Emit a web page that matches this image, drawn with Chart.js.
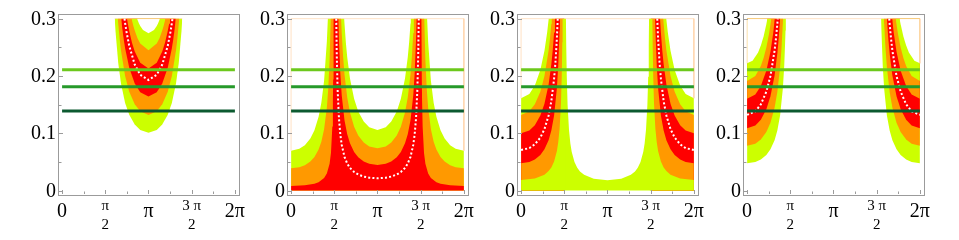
<!DOCTYPE html>
<html><head><meta charset="utf-8">
<script src="https://cdn.jsdelivr.net/npm/chart.js@4/dist/chart.umd.min.js"></script>
<style>
html,body{margin:0;padding:0;background:#fff;width:959px;height:240px;overflow:hidden;position:relative}
canvas{position:absolute;top:0}
</style></head><body>
<canvas id="c1" width="246" height="240" style="left:0px"></canvas>
<canvas id="c2" width="246" height="240" style="left:229px"></canvas>
<canvas id="c3" width="246" height="240" style="left:459px"></canvas>
<canvas id="c4" width="246" height="240" style="left:685px"></canvas>
<script>
// ---------- axes / ticks ----------
const xTickValues = [0, 1.5708, 3.1416, 4.7124, 6.2832];
const xTickLabels = [['0'], ['π', '2'], ['π'], ['3 π', '2'], ['2π']];
const xMinorTicks = [0, 0.7854, 1.5708, 2.3562, 3.1416, 3.9270, 4.7124, 5.4978, 6.2832];
const yTickValues = [0, 0.1, 0.2, 0.3];
const yTickLabels = ['0', '0.1', '0.2', '0.3'];
const yMinorTicks = [0, 0.05, 0.1, 0.15, 0.2, 0.25, 0.3];
const hLineValues = [0.211, 0.181, 0.139];
const hLineColors = ['#6cc81c', '#26992a', '#0c5a30'];

// ---------- panel 1 (U around pi) ----------
const p1_L1 = [[1.9142,0.3],[1.9416,0.2787],[2.0416,0.2227],[2.1416,0.1869],[2.2916,0.153],[2.4416,0.1321],[2.6416,0.1151],[2.8416,0.1057],[3.1416,0.101],[3.4416,0.1057],[3.6416,0.1151],[3.8416,0.1321],[3.9916,0.153],[4.1416,0.1869],[4.2416,0.2227],[4.3416,0.2787],[4.369,0.3]];
const p1_L2 = [[2.0264,0.3],[2.0416,0.291],[2.0916,0.2653],[2.1416,0.2443],[2.2916,0.2],[2.4416,0.1726],[2.6416,0.1504],[2.8416,0.1382],[3.1416,0.132],[3.4416,0.1382],[3.6416,0.1504],[3.8416,0.1726],[3.9916,0.2],[4.1416,0.2443],[4.1916,0.2653],[4.2416,0.291],[4.2568,0.3]];
const p1_L3 = [[2.1494,0.3],[2.1916,0.2819],[2.2416,0.2638],[2.2916,0.2485],[2.4416,0.2144],[2.6416,0.1869],[2.8416,0.1717],[3.1416,0.164],[3.4416,0.1717],[3.6416,0.1869],[3.8416,0.2144],[3.9916,0.2485],[4.0416,0.2638],[4.0916,0.2819],[4.1338,0.3]];
const p1_D  = [[2.2698,0.3],[2.2916,0.2924],[2.3416,0.277],[2.4416,0.2524],[2.6416,0.2199],[2.8416,0.202],[3.1416,0.193],[3.4416,0.202],[3.6416,0.2199],[3.8416,0.2524],[3.9416,0.277],[3.9916,0.2924],[4.0134,0.3]];
const p1_U3 = [[2.3603,0.3],[2.3916,0.2911],[2.4416,0.2785],[2.5416,0.2581],[2.6416,0.2427],[2.8416,0.223],[3.1416,0.213],[3.4416,0.223],[3.6416,0.2427],[3.7416,0.2581],[3.8416,0.2785],[3.8916,0.2911],[3.9229,0.3]];
const p1_U2 = [[2.5267,0.3],[2.5416,0.2968],[2.5916,0.2874],[2.6416,0.2792],[2.7416,0.266],[2.8416,0.2565],[3.1416,0.245],[3.4416,0.2565],[3.5416,0.266],[3.6416,0.2792],[3.6916,0.2874],[3.7416,0.2968],[3.7565,0.3]];
const p1_U1 = [[2.7261,0.3],[2.7916,0.2922],[2.8416,0.2873],[2.9416,0.2801],[3.1416,0.2745],[3.3416,0.2801],[3.4416,0.2873],[3.4916,0.2922],[3.5571,0.3]];
const p1_edge = [[1.9142,0.3],[4.369,0.3]];

// ---------- panel 2 ----------
const p2_Y = [[0,0.0695],[0.3,0.0728],[0.5,0.0792],[0.7,0.0909],[0.85,0.1053],[1.0,0.1286],[1.1,0.1532],[1.2,0.1918],[1.3,0.2598],[1.3369,0.3],[1.9306,0.3],[1.9416,0.2914],[1.9916,0.2585],[2.0416,0.2328],[2.1416,0.1954],[2.2916,0.16],[2.4416,0.1381],[2.6416,0.1203],[2.8416,0.1105],[3.1416,0.1056],[3.4416,0.1105],[3.6416,0.1203],[3.8416,0.1381],[3.9916,0.16],[4.1416,0.1954],[4.2416,0.2328],[4.2916,0.2585],[4.3416,0.2914],[4.3526,0.3],[4.9463,0.3],[4.9832,0.2598],[5.0832,0.1918],[5.1832,0.1532],[5.2832,0.1286],[5.4332,0.1053],[5.5832,0.0909],[5.7832,0.0792],[5.9832,0.0728],[6.2832,0.0695]];
const p2_O = [[0,0.0387],[0.3,0.0405],[0.5,0.0441],[0.7,0.0506],[0.85,0.0586],[1.0,0.0716],[1.1,0.0853],[1.2,0.1068],[1.3,0.1447],[1.35,0.1767],[1.4,0.2277],[1.4414,0.3],[1.8186,0.3],[1.8416,0.2751],[1.8916,0.2334],[1.9416,0.2031],[2.0416,0.1623],[2.1416,0.1362],[2.2916,0.1115],[2.4416,0.0962],[2.6416,0.0839],[2.8416,0.077],[3.1416,0.0736],[3.4416,0.077],[3.6416,0.0839],[3.8416,0.0962],[3.9916,0.1115],[4.1416,0.1362],[4.2416,0.1623],[4.3416,0.2031],[4.3916,0.2334],[4.4416,0.2751],[4.4646,0.3],[4.8418,0.3],[4.8832,0.2277],[4.9332,0.1767],[4.9832,0.1447],[5.0832,0.1068],[5.1832,0.0853],[5.2832,0.0716],[5.4332,0.0586],[5.5832,0.0506],[5.7832,0.0441],[5.9832,0.0405],[6.2832,0.0387]];
const p2_R = [[0,0.0079],[0.5,0.009],[0.85,0.012],[1.0,0.0146],[1.2,0.0218],[1.3,0.0295],[1.4,0.0465],[1.45,0.0656],[1.5,0.1117],[1.52,0.1556],[1.53,0.1936],[1.5445,0.3],[1.7197,0.3],[1.7416,0.2618],[1.7916,0.2032],[1.8416,0.1664],[1.9416,0.1228],[2.0416,0.0981],[2.1416,0.0824],[2.2916,0.0674],[2.4416,0.0582],[2.6416,0.0507],[2.8416,0.0466],[3.1416,0.0445],[3.4416,0.0466],[3.6416,0.0507],[3.8416,0.0582],[3.9916,0.0674],[4.1416,0.0824],[4.2416,0.0981],[4.3416,0.1228],[4.4416,0.1664],[4.4916,0.2032],[4.5416,0.2618],[4.5635,0.3],[4.7387,0.3],[4.7532,0.1936],[4.7632,0.1556],[4.7832,0.1117],[4.8332,0.0656],[4.8832,0.0465],[4.9832,0.0295],[5.0832,0.0218],[5.2832,0.0146],[5.4332,0.012],[5.7832,0.009],[6.2832,0.0079]];
const p2_D = [[1.6419,0.3],[1.6616,0.2349],[1.6916,0.1768],[1.7416,0.1253],[1.7916,0.0973],[1.8416,0.0796],[1.9416,0.0588],[2.0416,0.047],[2.1416,0.0394],[2.2916,0.0323],[2.4416,0.0279],[2.6416,0.0243],[2.8416,0.0223],[3.1416,0.0213],[3.4416,0.0223],[3.6416,0.0243],[3.8416,0.0279],[3.9916,0.0323],[4.1416,0.0394],[4.2416,0.047],[4.3416,0.0588],[4.4416,0.0796],[4.4916,0.0973],[4.5416,0.1253],[4.5916,0.1768],[4.6216,0.2349],[4.6413,0.3]];
const p2_edge = [[0,0.0695],[0,0.3],[6.2832,0.3],[6.2832,0.0695]];

// ---------- panel 3 ----------
const p3_Y = [[0,0.161],[0.3,0.1685],[0.5,0.1835],[0.7,0.2105],[0.85,0.2439],[0.95,0.2768],[1.004,0.3],[1.6308,0.3],[1.6416,0.2545],[1.6616,0.1985],[1.6916,0.1494],[1.7416,0.1059],[1.7916,0.0822],[1.8416,0.0673],[1.9416,0.0497],[2.0416,0.0397],[2.1416,0.0333],[2.2916,0.0273],[2.6416,0.0205],[3.1416,0.018],[3.6416,0.0205],[3.9916,0.0273],[4.1416,0.0333],[4.2416,0.0397],[4.3416,0.0497],[4.4416,0.0673],[4.4916,0.0822],[4.5416,0.1059],[4.5916,0.1494],[4.6216,0.1985],[4.6416,0.2545],[4.6524,0.3],[5.2792,0.3],[5.3332,0.2768],[5.4332,0.2439],[5.5832,0.2105],[5.7832,0.1835],[5.9832,0.1685],[6.2832,0.161]];
const p3_Oh = [[0,0.132],[0.3,0.1382],[0.5,0.1504],[0.7,0.1726],[0.85,0.2],[1.0,0.2443],[1.05,0.2653],[1.1,0.291],[1.1152,0.3],[1.5708,0.3], null, [4.7124,0.3],[5.168,0.3],[5.1832,0.291],[5.2332,0.2653],[5.2832,0.2443],[5.4332,0.2],[5.5832,0.1726],[5.7832,0.1504],[5.9832,0.1382],[6.2832,0.132]];
const p3_Rh = [[0,0.1],[0.3,0.1047],[0.5,0.114],[0.7,0.1308],[0.85,0.1515],[1.0,0.1851],[1.1,0.2205],[1.15,0.2448],[1.2,0.276],[1.231,0.3],[1.5708,0.3], null, [4.7124,0.3],[5.0522,0.3],[5.0832,0.276],[5.1332,0.2448],[5.1832,0.2205],[5.2832,0.1851],[5.4332,0.1515],[5.5832,0.1308],[5.7832,0.114],[5.9832,0.1047],[6.2832,0.1]];
const p3_Rl = [[0,0.0475],[0.3,0.0497],[0.5,0.0541],[0.7,0.0621],[0.85,0.072],[1.0,0.0879],[1.1,0.1047],[1.2,0.1311],[1.3,0.1776],[1.35,0.2169],[1.4,0.2795],[1.4118,0.3],[1.5708,0.3], null, [4.7124,0.3],[4.8714,0.3],[4.8832,0.2795],[4.9332,0.2169],[4.9832,0.1776],[5.0832,0.1311],[5.1832,0.1047],[5.2832,0.0879],[5.4332,0.072],[5.5832,0.0621],[5.7832,0.0541],[5.9832,0.0497],[6.2832,0.0475]];
const p3_Ol = [[0,0.0183],[0.5,0.0209],[0.85,0.0277],[1.0,0.0339],[1.1,0.0403],[1.2,0.0505],[1.3,0.0684],[1.35,0.0836],[1.4,0.1077],[1.45,0.1519],[1.48,0.2018],[1.5,0.2588],[1.5097,0.3],[1.61,0.3], null, [4.6732,0.3],[4.7735,0.3],[4.7832,0.2588],[4.8032,0.2018],[4.8332,0.1519],[4.8832,0.1077],[4.9332,0.0836],[4.9832,0.0684],[5.0832,0.0505],[5.1832,0.0403],[5.2832,0.0339],[5.4332,0.0277],[5.7832,0.0209],[6.2832,0.0183]];
const p3_D = [[0,0.0707],[0.3,0.074],[0.5,0.0806],[0.7,0.0924],[0.85,0.1071],[1.0,0.1309],[1.1,0.1559],[1.2,0.1951],[1.25,0.2242],[1.3,0.2643],[1.3328,0.3], null, [4.9504,0.3],[4.9832,0.2643],[5.0332,0.2242],[5.0832,0.1951],[5.1832,0.1559],[5.2832,0.1309],[5.4332,0.1071],[5.5832,0.0924],[5.7832,0.0806],[5.9832,0.074],[6.2832,0.0707]];
const p3_edge = [[0,0.161],[0,0.3],[6.2832,0.3],[6.2832,0.161]];

// ---------- panel 4 ----------
const p4_Yl = [[0,0.0475],[0.3,0.0497],[0.5,0.0541],[0.7,0.0621],[0.85,0.072],[1.0,0.0879],[1.1,0.1047],[1.2,0.1311],[1.3,0.1776],[1.35,0.2169],[1.4,0.2795],[1.4118,0.3], null, [4.8714,0.3],[4.8832,0.2795],[4.9332,0.2169],[4.9832,0.1776],[5.0832,0.1311],[5.1832,0.1047],[5.2832,0.0879],[5.4332,0.072],[5.5832,0.0621],[5.7832,0.0541],[5.9832,0.0497],[6.2832,0.0475]];
const p4_Ol = [[0,0.078],[0.3,0.0817],[0.5,0.0889],[0.7,0.102],[0.85,0.1182],[1.0,0.1444],[1.1,0.172],[1.2,0.2153],[1.25,0.2474],[1.3,0.2916],[1.3078,0.3], null, [4.9754,0.3],[4.9832,0.2916],[5.0332,0.2474],[5.0832,0.2153],[5.1832,0.172],[5.2832,0.1444],[5.4332,0.1182],[5.5832,0.102],[5.7832,0.0889],[5.9832,0.0817],[6.2832,0.078]];
const p4_Rl = [[0,0.1086],[0.3,0.1137],[0.5,0.1237],[0.7,0.142],[0.85,0.1646],[1.0,0.201],[1.1,0.2394],[1.15,0.2659],[1.2003,0.3], null, [5.0829,0.3],[5.1332,0.2659],[5.1832,0.2394],[5.2832,0.201],[5.4332,0.1646],[5.5832,0.142],[5.7832,0.1237],[5.9832,0.1137],[6.2832,0.1086]];
const p4_Rh = [[0,0.16],[0.3,0.1675],[0.5,0.1823],[0.7,0.2092],[0.85,0.2424],[0.95,0.2751],[1.0084,0.3], null, [5.2748,0.3],[5.3332,0.2751],[5.4332,0.2424],[5.5832,0.2092],[5.7832,0.1823],[5.9832,0.1675],[6.2832,0.16]];
const p4_Oh = [[0,0.191],[0.3,0.2],[0.5,0.2176],[0.6,0.2314],[0.7,0.2497],[0.8,0.2741],[0.8802,0.3], null, [5.403,0.3],[5.4832,0.2741],[5.5832,0.2497],[5.6832,0.2314],[5.7832,0.2176],[5.9832,0.2],[6.2832,0.191]];
const p4_Yh = [[0,0.222],[0.2,0.2265],[0.4,0.241],[0.5,0.253],[0.6,0.269],[0.7,0.2903],[0.7377,0.3], null, [5.5455,0.3],[5.5832,0.2903],[5.6832,0.269],[5.7832,0.253],[5.8832,0.241],[6.0832,0.2265],[6.2832,0.222]];
const p4_D = [[0,0.132],[0.3,0.1382],[0.5,0.1504],[0.7,0.1726],[0.85,0.2],[1.0,0.2443],[1.05,0.2653],[1.1,0.291],[1.1152,0.3], null, [5.168,0.3],[5.1832,0.291],[5.2332,0.2653],[5.2832,0.2443],[5.4332,0.2],[5.5832,0.1726],[5.7832,0.1504],[5.9832,0.1382],[6.2832,0.132]];
const p4_edge = [[0,0.222],[0,0.3],[6.2832,0.3],[6.2832,0.222]];

// ---------- styles ----------
const YEL = '#ccff00', ORA = '#ff9900', RED = '#ff0000', WHITE = '#ffffff';
const EDGE = 'rgba(255,200,150,0.55)';
const TOP = {value: 0.3};
const SERIF = '"Liberation Serif", "Times New Roman", Times, "DejaVu Serif", serif';

function segs(points) {
  const out = [[]];
  points.forEach(p => { if (p === null) out.push([]); else out[out.length - 1].push({x: p[0], y: p[1]}); });
  return out.filter(s => s.length);
}
function addFill(ds, pts, color, fill) {
  segs(pts).forEach(s => ds.push({data: s, fill: fill, backgroundColor: color, borderColor: 'transparent', borderWidth: 0, pointRadius: 0, tension: 0}));
}
function addLine(ds, pts, color, width, dash) {
  segs(pts).forEach(s => ds.push({data: s, fill: false, borderColor: color, borderWidth: width, borderDash: dash || [], pointRadius: 0, tension: 0, borderCapStyle: 'butt'}));
}
function addHLines(ds) {
  hLineValues.forEach((v, i) => addLine(ds, [[0, v], [6.2832, v]], hLineColors[i], 3));
}
const DOT = [2, 2.2];

const panels = [];
{ const ds = [];
  addFill(ds, p1_L1, YEL, TOP); addFill(ds, p1_L2, ORA, TOP); addFill(ds, p1_L3, RED, TOP);
  addFill(ds, p1_U3, ORA, TOP); addFill(ds, p1_U2, YEL, TOP); addFill(ds, p1_U1, WHITE, TOP);
  addLine(ds, p1_edge, EDGE, 1);
  addLine(ds, p1_D, WHITE, 2, DOT); addHLines(ds); panels.push(ds); }
{ const ds = [];
  addFill(ds, p2_Y, YEL, 'origin'); addFill(ds, p2_O, ORA, 'origin'); addFill(ds, p2_R, RED, 'origin');
  addLine(ds, p2_edge, EDGE, 1);
  addLine(ds, p2_D, WHITE, 2, DOT); addHLines(ds); panels.push(ds); }
{ const ds = [];
  addFill(ds, p3_Y, YEL, 'origin'); addFill(ds, p3_Oh, ORA, 'origin'); addFill(ds, p3_Rh, RED, 'origin');
  addFill(ds, p3_Rl, ORA, 'origin'); addFill(ds, p3_Ol, YEL, 'origin');
  addLine(ds, p3_edge, EDGE, 1);
  addLine(ds, p3_D, WHITE, 2, DOT); addHLines(ds); panels.push(ds); }
{ const ds = [];
  addFill(ds, p4_Yl, YEL, TOP); addFill(ds, p4_Ol, ORA, TOP); addFill(ds, p4_Rl, RED, TOP);
  addFill(ds, p4_Rh, ORA, TOP); addFill(ds, p4_Oh, YEL, TOP); addFill(ds, p4_Yh, WHITE, TOP);
  addLine(ds, p4_edge, EDGE, 1);
  addLine(ds, p4_D, WHITE, 2, DOT); addHLines(ds); panels.push(ds); }

const framePlugin = {
  id: 'frameTicks',
  afterDraw(chart) {
    const {ctx, chartArea: a, scales: {x, y}} = chart;
    ctx.save();
    ctx.strokeStyle = '#9b9b9b';
    ctx.lineWidth = 1;
    const L = Math.round(a.left) - 0.5, T = Math.round(a.top) - 0.5;
    ctx.strokeRect(L, T, Math.round(a.right - a.left) + 1, Math.round(a.bottom - a.top) + 1);
    ctx.beginPath();
    xMinorTicks.forEach((v, i) => {
      const px = Math.round(x.getPixelForValue(v)) + 0.5;
      const len = i % 2 === 0 ? 4 : 2.5;
      ctx.moveTo(px, a.bottom); ctx.lineTo(px, a.bottom - len);
    });
    yMinorTicks.forEach((v, i) => {
      const py = Math.round(y.getPixelForValue(v)) + 0.5;
      const len = i % 2 === 0 ? 4 : 2.5;
      ctx.moveTo(a.left, py); ctx.lineTo(a.left + len, py);
    });
    ctx.stroke();
    ctx.fillStyle = '#000';
    ctx.font = '20px ' + SERIF;
    ctx.textAlign = 'right';
    ctx.textBaseline = 'middle';
    yTickValues.forEach((v, i) => ctx.fillText(yTickLabels[i], a.left - 3, y.getPixelForValue(v) + 1));
    ctx.textAlign = 'center';
    xTickValues.forEach((v, i) => {
      const lab = xTickLabels[i];
      const px = x.getPixelForValue(v);
      if (lab.length === 1) {
        ctx.font = '20px ' + SERIF;
        ctx.fillText(lab[0], px, a.bottom + 18);
      } else {
        ctx.font = '15px ' + SERIF;
        ctx.fillText(lab[0], px, a.bottom + 12);
        ctx.fillText(lab[1], px, a.bottom + 31);
      }
    });
    ctx.restore();
  }
};

panels.forEach((ds, k) => {
  ds.forEach((d, i) => { d.order = -i; });
  new Chart(document.getElementById('c' + (k + 1)), {
    type: 'line',
    data: {datasets: ds},
    options: {
      responsive: false, animation: false, devicePixelRatio: 1,
      layout: {padding: {left: 59, right: 7.5, top: 14.5, bottom: 46}},
      plugins: {legend: {display: false}, tooltip: {enabled: false}},
      events: [],
      scales: {
        x: {type: 'linear', min: -0.112, max: 6.414, display: false},
        y: {type: 'linear', min: -0.0061, max: 0.3073, display: false}
      }
    },
    plugins: [framePlugin]
  });
});
</script>
</body></html>
